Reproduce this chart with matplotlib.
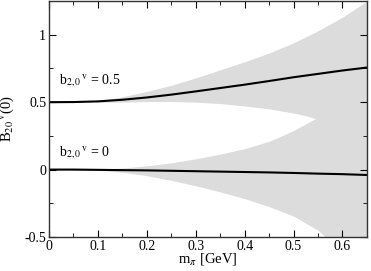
import numpy as np
import matplotlib.pyplot as plt
from matplotlib.ticker import MultipleLocator

plt.rcParams['font.family'] = ['Liberation Serif', 'DejaVu Serif']
plt.rcParams['mathtext.fontset'] = 'stix'

# central curves
m_line = [0.0, 0.05, 0.1, 0.15, 0.2, 0.25, 0.3, 0.35, 0.4, 0.45, 0.5, 0.55, 0.6, 0.65]
b05_line = [0.5, 0.501, 0.506, 0.518, 0.535, 0.556, 0.58, 0.605, 0.63, 0.657, 0.685, 0.71, 0.735, 0.757]
b0_line = [0.0, 0.0, -0.002, -0.004, -0.006, -0.009, -0.012, -0.015, -0.018, -0.021, -0.025, -0.03, -0.034, -0.04]

# error band b=0.5
m_up = [0.0, 0.05, 0.1, 0.15, 0.2, 0.25, 0.3, 0.35, 0.4, 0.45, 0.5, 0.55, 0.6, 0.65]
b05_hi = [0.5, 0.5, 0.51, 0.54, 0.58, 0.625, 0.68, 0.74, 0.80, 0.865, 0.94, 1.03, 1.13, 1.25]
m_up_lo = [0.0, 0.1, 0.15, 0.2, 0.25, 0.3, 0.35, 0.4, 0.45, 0.5, 0.53, 0.545, 0.6, 0.65]
b05_lo = [0.5, 0.5, 0.5, 0.505, 0.505, 0.5, 0.49, 0.472, 0.45, 0.42, 0.395, 0.378, 0.3, 0.2]

# error band b=0
m_dn = [0.0, 0.1, 0.15, 0.2, 0.25, 0.3, 0.35, 0.4, 0.45, 0.476, 0.5, 0.545, 0.6, 0.65]
b0_hi = [0.0, 0.003, 0.012, 0.028, 0.05, 0.08, 0.115, 0.155, 0.21, 0.25, 0.29, 0.378, 0.5, 0.6]
m_dn_lo = [0.0, 0.1, 0.15, 0.2, 0.25, 0.3, 0.35, 0.4, 0.45, 0.5, 0.55, 0.565, 0.6, 0.65]
b0_lo = [0.0, -0.005, -0.02, -0.045, -0.08, -0.12, -0.165, -0.215, -0.275, -0.345, -0.45, -0.5, -0.58, -0.72]

fig = plt.figure(figsize=(3.71, 2.71), dpi=100)
ax = fig.add_axes([0.132, 0.1255, 0.857, 0.8705])

grid = np.linspace(0, 0.65, 300)
gray = '#dcdcdc'
ax.fill_between(grid, np.interp(grid, m_up_lo, b05_lo), np.interp(grid, m_up, b05_hi),
                color=gray, lw=0)
ax.fill_between(grid, np.interp(grid, m_dn_lo, b0_lo), np.interp(grid, m_dn, b0_hi),
                color=gray, lw=0)
ax.plot(m_line, b05_line, color='black', lw=1.5)
ax.plot(m_line, b0_line, color='black', lw=1.5)

ax.text(0.02, 0.635, r'b$_{2,0}$$^{\,\mathrm{v}}$ = 0.5', fontsize=10)
ax.text(0.02, 0.1, r'b$_{2,0}$$^{\,\mathrm{v}}$ = 0', fontsize=10)

ax.set_xlim(0, 0.65)
ax.set_ylim(-0.5, 1.25)
ax.xaxis.set_major_locator(MultipleLocator(0.1))
ax.xaxis.set_minor_locator(MultipleLocator(0.05))
ax.yaxis.set_major_locator(MultipleLocator(0.5))
ax.yaxis.set_minor_locator(MultipleLocator(0.25))
ax.xaxis.set_major_formatter(plt.FuncFormatter(lambda v, p: f'{v:g}'))
ax.yaxis.set_major_formatter(plt.FuncFormatter(lambda v, p: f'{v:g}'))
ax.tick_params(which='both', direction='in', top=True, right=True, labelsize=10)
ax.tick_params(which='major', length=5, pad=2)
ax.tick_params(which='minor', length=3)
for s in ax.spines.values():
    s.set_linewidth(1.0)
    s.set_color('#333333')

ax.set_xlabel(r'm$_{\pi}$ [GeV]', fontsize=10.5, labelpad=-1)
ax.set_ylabel(r'B$_{20}$$^{\,\mathrm{v}}$(0)', fontsize=10.5, labelpad=6)

fig.savefig('out.png', dpi=100)
